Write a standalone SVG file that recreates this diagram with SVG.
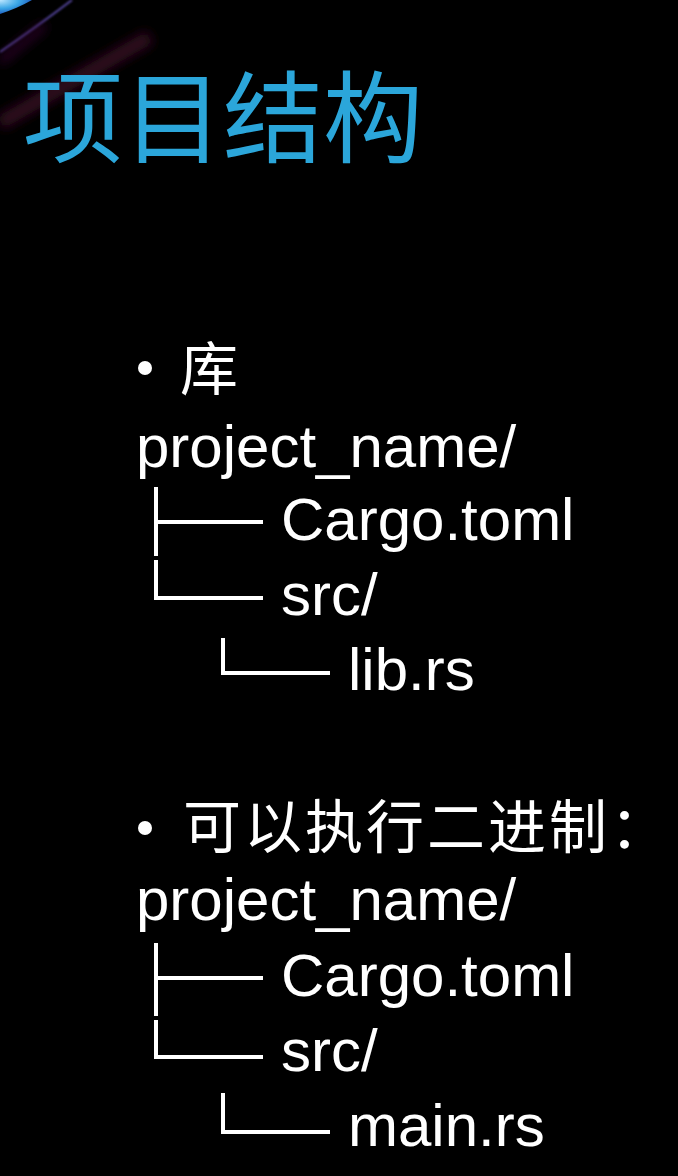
<svg xmlns="http://www.w3.org/2000/svg" width="678" height="1176" viewBox="0 0 678 1176">
<defs>
<style>
.title{font-family:"Noto Sans CJK SC","Noto Sans",sans-serif;font-size:100px;fill:#2ba6da}
.cjk{font-family:"Noto Sans CJK SC","Noto Sans",sans-serif;font-size:58px;fill:#ffffff}
.txt{font-family:"Liberation Sans",Arial,sans-serif;font-size:60px;fill:#ffffff}
.tree{stroke:#ffffff;stroke-width:4;fill:none}
</style>
<filter id="blur" x="-50%" y="-50%" width="200%" height="200%"><feGaussianBlur stdDeviation="6"/></filter>
<filter id="blur2" x="-50%" y="-50%" width="200%" height="200%"><feGaussianBlur stdDeviation="1"/></filter>
<radialGradient id="glow" cx="0" cy="0" r="1" gradientUnits="objectBoundingBox">
<stop offset="0" stop-color="#bfe8ff"/>
<stop offset="0.6" stop-color="#3aa6e6"/>
<stop offset="1" stop-color="#2060c0"/>
</radialGradient>
</defs>
<rect width="678" height="1176" fill="#000000"/>
<g id="decor">
<path d="M0,0 L32,0 Q18,8 0,14 Z" fill="url(#glow)"/>
<path d="M0,52 Q35,28 72,0" stroke="#5a4aa8" stroke-width="1.8" fill="none" filter="url(#blur2)"/>
<path d="M0,123 Q80,77 150,37" stroke="#340820" stroke-width="14" fill="none" filter="url(#blur)"/>
<path d="M0,62 Q20,45 45,25" stroke="#3a0a34" stroke-width="6" fill="none" filter="url(#blur)"/>
</g>
<g id="title"><text class="title" x="23" y="155">项目结构</text></g>
<g id="lib-section">
<circle cx="145" cy="368" r="7" fill="#ffffff"/>
<text class="cjk" x="180" y="390">库</text>
<text class="txt" x="136" y="467">project_name/</text>
<text class="txt" x="281" y="540">Cargo.toml</text>
<text class="txt" x="281" y="615">src/</text>
<text class="txt" x="348" y="690">lib.rs</text>
</g>
<g id="bin-section">
<circle cx="145" cy="828" r="7" fill="#ffffff"/>
<text class="cjk" x="183" y="848" letter-spacing="3">可以执行二进制：</text>
<text class="txt" x="136" y="920">project_name/</text>
<text class="txt" x="281" y="996">Cargo.toml</text>
<text class="txt" x="281" y="1071">src/</text>
<text class="txt" x="348" y="1146">main.rs</text>
</g>
<g id="connectors" class="tree">
<path d="M156,487 V556 M156,522 H263 M156,560 V598 H263"/>
<path d="M223,638 V673 H330"/>
<path d="M156,943 V1016 M156,978 H263 M156,1020 V1057 H263"/>
<path d="M223,1093 V1132 H330"/>
</g>
</svg>
